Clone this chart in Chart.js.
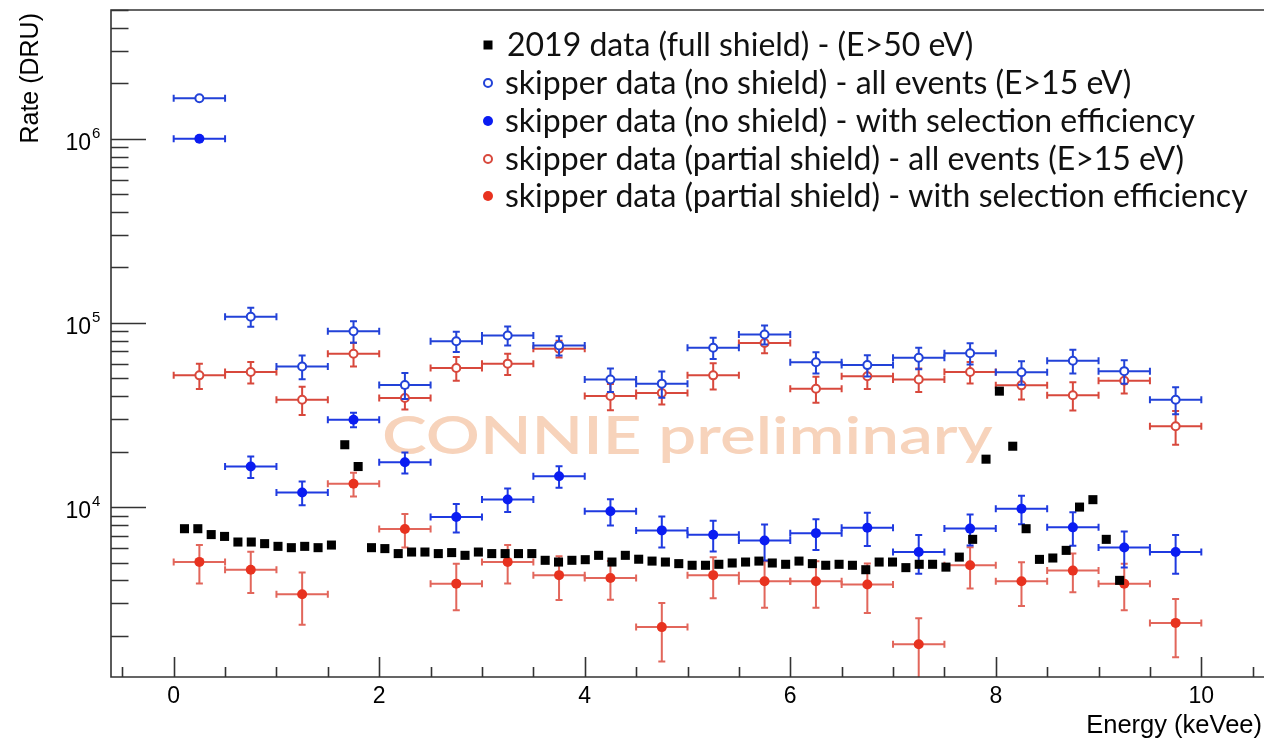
<!DOCTYPE html>
<html>
<head>
<meta charset="utf-8">
<script src="https://cdn.jsdelivr.net/npm/chart.js@4.4.1/dist/chart.umd.min.js"></script>
<style>
    html, body { margin: 0; padding: 0; background: #fff; overflow: hidden; }
    #wrap { position: relative; width: 1264px; height: 739px; }
    canvas { display: block; }
</style>
</head>
<body>
<div id="wrap"><canvas id="spectrum_chart" width="1264" height="739"></canvas></div>
<script>
// Skipper data: 0.5 keVee bins, centre of each bin
const binCenters = [0.25, 0.75, 1.25, 1.75, 2.25, 2.75, 3.25, 3.75, 4.25, 4.75,
                    5.25, 5.75, 6.25, 6.75, 7.25, 7.75, 8.25, 8.75, 9.25, 9.75];
const binHalfWidth = 0.25;

// skipper data (no shield) - all events (E>15 eV)
const noShieldAll = [1.66e6, 1.08e5, 5.8e4, 9.0e4, 4.6e4, 7.95e4, 8.55e4, 7.55e4, 4.93e4, 4.68e4,
                     7.33e4, 8.66e4, 6.12e4, 5.9e4, 6.47e4, 6.85e4, 5.4e4, 6.23e4, 5.47e4, 3.83e4];
const noShieldAllErr = [3e4, 1.28e4, 8.5e3, 1.2e4, 7.4e3, 1.0e4, 1.0e4, 9e3, 7.2e3, 7.6e3,
                        9.7e3, 1.03e4, 8.1e3, 7.8e3, 8.6e3, 9.1e3, 7.9e3, 9.2e3, 8.0e3, 6.4e3];

// skipper data (no shield) - with selection efficiency
const noShieldSel = [1.0e6, 1.66e4, 1.20e4, 2.98e4, 1.75e4, 8.83e3, 1.10e4, 1.47e4, 9.49e3, 7.47e3,
                     7.08e3, 6.59e3, 7.22e3, 7.73e3, 5.7e3, 7.64e3, 9.8e3, 7.76e3, 6.03e3, 5.7e3];
const noShieldSelErr = [2.5e4, 2.2e3, 1.76e3, 2.7e3, 2.3e3, 1.55e3, 1.6e3, 1.95e3, 1.54e3, 1.43e3,
                        1.35e3, 1.46e3, 1.38e3, 1.59e3, 1.35e3, 1.46e3, 1.72e3, 1.6e3, 1.33e3, 1.35e3];

// skipper data (partial shield) - all events (E>15 eV)
const partialAll = [5.19e4, 5.41e4, 3.83e4, 6.8e4, 3.91e4, 5.69e4, 6.01e4, 7.24e4, 4.01e4, 4.16e4,
                    5.19e4, 7.77e4, 4.39e4, 5.13e4, 4.93e4, 5.41e4, 4.58e4, 4.05e4, 4.85e4, 2.75e4];
const partialAllErr = [8.1e3, 7.2e3, 6.7e3, 1.0e4, 5.2e3, 8.4e3, 8.0e3, 7.6e3, 6.5e3, 5.5e3,
                       8.4e3, 9.2e3, 7.1e3, 7.5e3, 7.2e3, 7.2e3, 7.4e3, 7.1e3, 7.1e3, 5.7e3];

// skipper data (partial shield) - with selection efficiency
const partialSel = [5.04e3, 4.57e3, 3.36e3, 1.34e4, 7.6e3, 3.84e3, 5.04e3, 4.27e3, 4.12e3, 2.23e3,
                    4.27e3, 3.96e3, 3.96e3, 3.80e3, 1.80e3, 4.83e3, 3.96e3, 4.52e3, 3.84e3, 2.35e3];
const partialSelErr = [1.19e3, 1.15e3, 1.06e3, 1.97e3, 1.57e3, 1.09e3, 1.19e3, 1.14e3, 0.98e3, 0.78e3,
                       1.07e3, 1.12e3, 1.12e3, 1.14e3, 0.69e3, 1.22e3, 1.06e3, 1.07e3, 1.09e3, 0.82e3];

// 2019 data (full shield) - (E>50 eV)
const energy2019 = [0.105, 0.235, 0.365, 0.495, 0.625, 0.755, 0.885, 1.015, 1.145, 1.275,
                    1.405, 1.535, 1.665, 1.795, 1.925, 2.055, 2.185, 2.315, 2.445, 2.575,
                    2.705, 2.835, 2.965, 3.095, 3.225, 3.355, 3.485, 3.615, 3.745, 3.875,
                    4.005, 4.135, 4.265, 4.395, 4.525, 4.655, 4.785, 4.915, 5.045, 5.175,
                    5.305, 5.435, 5.565, 5.695, 5.825, 5.955, 6.085, 6.215, 6.345, 6.475,
                    6.605, 6.735, 6.865, 6.995, 7.125, 7.255, 7.385, 7.515, 7.645, 7.775,
                    7.905, 8.035, 8.165, 8.295, 8.425, 8.555, 8.685, 8.815, 8.945, 9.075,
                    9.205];
const rate2019 = [7630, 7630, 7090, 6930, 6460, 6460, 6330, 6120, 6020, 6120,
                  6020, 6220, 21800, 16600, 6020, 5950, 5590, 5700, 5700, 5590,
                  5660, 5470, 5700, 5590, 5590, 5590, 5590, 5140, 5030, 5140,
                  5180, 5470, 5030, 5470, 5210, 5090, 5030, 4930, 4830, 4830,
                  4890, 4970, 5030, 5090, 4970, 4890, 5090, 4930, 4830, 4890,
                  4830, 4570, 5030, 5030, 4690, 4890, 4890, 4720, 5350, 6680,
                  18200, 42600, 21400, 7630, 5200, 5290, 5820, 10000, 10970, 6680,
                  4000];

// axis ticks
const xMajorTicks = [0, 2, 4, 6, 8, 10];
const xMinorStep = 0.5;
const yMajorTicks = [1e4, 1e5, 1e6];
const yTickExponents = ["4", "5", "6"];

const legendLabels = [
    "2019 data (full shield) - (E>50 eV)",
    "skipper data (no shield) - all events (E>15 eV)",
    "skipper data (no shield) - with selection efficiency",
    "skipper data (partial shield) - all events (E>15 eV)",
    "skipper data (partial shield) - with selection efficiency",
];

const BLACK = "#000000";
const BLUE_OPEN = "#2242d8";
const BLUE_FILL = "#0a1cf2";
const BLUE_BAR = "#1f3ae0";
const RED_OPEN = "#d8483c";
const RED_FILL = "#e8321f";
const RED_BAR = "#e2665b";

function toPoints(xs, ys) {
    return xs.map((x, i) => ({ x: x, y: ys[i] }));
}

// error bars, ROOT style with small end caps
const errorBarPlugin = {
    id: "errorBars",
    beforeDatasetDraw(chart, args) {
        const ds = chart.data.datasets[args.index];
        if (!ds.errY) return;
        const { ctx, chartArea: a, scales: { x, y } } = chart;
        const cap = 3.5;
        ctx.save();
        ctx.beginPath();
        ctx.rect(a.left, a.top, a.right - a.left, a.bottom - a.top);
        ctx.clip();
        ctx.strokeStyle = ds.barColor;
        ctx.lineWidth = 2;
        ds.data.forEach((p, i) => {
            const px = x.getPixelForValue(p.x);
            const py = y.getPixelForValue(p.y);
            const xl = x.getPixelForValue(p.x - binHalfWidth);
            const xr = x.getPixelForValue(p.x + binHalfWidth);
            const yt = y.getPixelForValue(p.y + ds.errY[i]);
            const yb = y.getPixelForValue(Math.max(p.y - ds.errY[i], 1));
            ctx.beginPath();
            ctx.moveTo(xl, py); ctx.lineTo(xr, py);
            ctx.moveTo(xl, py - cap); ctx.lineTo(xl, py + cap);
            ctx.moveTo(xr, py - cap); ctx.lineTo(xr, py + cap);
            ctx.moveTo(px, yt); ctx.lineTo(px, yb);
            ctx.moveTo(px - cap, yt); ctx.lineTo(px + cap, yt);
            ctx.moveTo(px - cap, yb); ctx.lineTo(px + cap, yb);
            ctx.stroke();
        });
        ctx.restore();
    },
};

// watermark behind the data (stretched wide like the original)
const watermarkPlugin = {
    id: "watermark",
    beforeDatasetsDraw(chart) {
        const ctx = chart.ctx;
        ctx.save();
        ctx.fillStyle = "#f7d3bb";
        ctx.font = "600 51px Lato";
        ctx.textAlign = "left";
        ctx.textBaseline = "alphabetic";
        ctx.translate(382, 454);
        ctx.scale(1.32, 1);
        ctx.fillText("CONNIE preliminary", 0, 0);
        ctx.restore();
    },
};

// ROOT-like frame, inward ticks, labels and legend
const frameLegendPlugin = {
    id: "frameLegend",
    afterDraw(chart) {
        const { ctx, chartArea: a, scales: { x, y } } = chart;
        ctx.save();
        ctx.strokeStyle = "#333";
        ctx.lineWidth = 1.6;
        ctx.beginPath();
        ctx.moveTo(a.right, a.top); ctx.lineTo(a.left, a.top);
        ctx.lineTo(a.left, a.bottom); ctx.lineTo(a.right, a.bottom);
        ctx.stroke();

        // x ticks
        ctx.beginPath();
        for (let v = Math.ceil(x.min / xMinorStep) * xMinorStep; v <= x.max; v += xMinorStep) {
            const px = Math.round(x.getPixelForValue(v)) + 0.5;
            const len = xMajorTicks.includes(Math.round(v * 100) / 100) ? 20 : 10;
            ctx.moveTo(px, a.bottom); ctx.lineTo(px, a.bottom - len);
        }
        // y ticks (log decades, 1..9)
        const e0 = Math.floor(Math.log10(y.min)), e1 = Math.ceil(Math.log10(y.max));
        for (let e = e0; e <= e1; e++) {
            for (let m = 1; m <= 9; m++) {
                const v = m * Math.pow(10, e);
                if (v < y.min || v > y.max) continue;
                const py = Math.round(y.getPixelForValue(v)) + 0.5;
                const len = m === 1 ? 35 : 17.5;
                ctx.moveTo(a.left, py); ctx.lineTo(a.left + len, py);
            }
        }
        ctx.stroke();

        // tick labels
        ctx.fillStyle = "#000";
        ctx.font = "23px 'Liberation Sans', Arial, sans-serif";
        ctx.textAlign = "center";
        ctx.textBaseline = "alphabetic";
        xMajorTicks.forEach((v) => {
            ctx.fillText(String(v), x.getPixelForValue(v), 703);
        });
        yMajorTicks.forEach((v, i) => {
            const py = y.getPixelForValue(v);
            ctx.font = "23px 'Liberation Sans', Arial, sans-serif";
            ctx.textAlign = "right";
            ctx.fillText("10", 91, py + 11);
            ctx.font = "15px 'Liberation Sans', Arial, sans-serif";
            ctx.textAlign = "left";
            ctx.fillText(yTickExponents[i], 92, py - 1);
        });

        // axis titles
        ctx.font = "25.5px 'Liberation Sans', Arial, sans-serif";
        ctx.textAlign = "right";
        ctx.fillText("Energy (keVee)", 1262, 733);
        ctx.font = "25px 'Liberation Sans', Arial, sans-serif";
        ctx.save();
        ctx.translate(38, 13);
        ctx.rotate(-Math.PI / 2);
        ctx.fillText("Rate (DRU)", 0, 0);
        ctx.restore();

        // legend
        const rowY = [45, 83, 121, 159, 196];
        const markerX = 488;
        chart.data.datasets.forEach((ds, i) => {
            const cy = rowY[i];
            ctx.lineWidth = ds.borderWidth;
            ctx.strokeStyle = ds.borderColor;
            ctx.fillStyle = ds.backgroundColor;
            ctx.beginPath();
            if (ds.pointStyle === "rect") {
                ctx.rect(markerX - 4.5, cy - 4.5, 9, 9);
            } else {
                ctx.arc(markerX, cy, ds.pointRadius, 0, Math.PI * 2);
            }
            ctx.fill();
            if (ds.borderWidth) ctx.stroke();
            ctx.fillStyle = "#111";
            ctx.font = "32px Lato, 'Open Sans', sans-serif";
            ctx.textAlign = "left";
            ctx.textBaseline = "middle";
            ctx.fillText(legendLabels[i], i === 0 ? 507 : 505, cy + 1);
        });
        ctx.restore();
    },
};

window.onload = async function () {
    try {
        await document.fonts.load("32px Lato");
        await document.fonts.load("600 51px Lato");
    } catch (e) {
        console.error("font load", e);
    }

    const ctxSpectrum = document.getElementById("spectrum_chart").getContext("2d");
    new Chart(ctxSpectrum, {
        type: "scatter",
        data: {
            datasets: [
                {
                    label: legendLabels[0],
                    data: toPoints(energy2019, rate2019),
                    pointStyle: "rect",
                    pointRadius: 6.4,
                    borderWidth: 0,
                    borderColor: BLACK,
                    backgroundColor: BLACK,
                },
                {
                    label: legendLabels[1],
                    data: toPoints(binCenters, noShieldAll),
                    errY: noShieldAllErr,
                    barColor: BLUE_OPEN,
                    pointStyle: "circle",
                    pointRadius: 4,
                    borderWidth: 2,
                    borderColor: BLUE_OPEN,
                    backgroundColor: "#ffffff",
                },
                {
                    label: legendLabels[2],
                    data: toPoints(binCenters, noShieldSel),
                    errY: noShieldSelErr,
                    barColor: BLUE_BAR,
                    pointStyle: "circle",
                    pointRadius: 5,
                    borderWidth: 0,
                    borderColor: BLUE_FILL,
                    backgroundColor: BLUE_FILL,
                },
                {
                    label: legendLabels[3],
                    data: toPoints(binCenters, partialAll),
                    errY: partialAllErr,
                    barColor: RED_OPEN,
                    pointStyle: "circle",
                    pointRadius: 4,
                    borderWidth: 2,
                    borderColor: RED_OPEN,
                    backgroundColor: "#ffffff",
                },
                {
                    label: legendLabels[4],
                    data: toPoints(binCenters, partialSel),
                    errY: partialSelErr,
                    barColor: RED_BAR,
                    pointStyle: "circle",
                    pointRadius: 5,
                    borderWidth: 0,
                    borderColor: RED_FILL,
                    backgroundColor: RED_FILL,
                },
            ],
        },
        options: {
            responsive: false,
            animation: false,
            layout: { autoPadding: false, padding: { left: 111, top: 10, right: 0, bottom: 62 } },
            plugins: { legend: { display: false }, tooltip: { enabled: false } },
            scales: {
                x: { type: "linear", min: -0.61, max: 10.61, display: false },
                y: { type: "logarithmic", min: 1195, max: 5e6, display: false },
            },
        },
        plugins: [watermarkPlugin, errorBarPlugin, frameLegendPlugin],
    });
};
</script>
</body>
</html>
